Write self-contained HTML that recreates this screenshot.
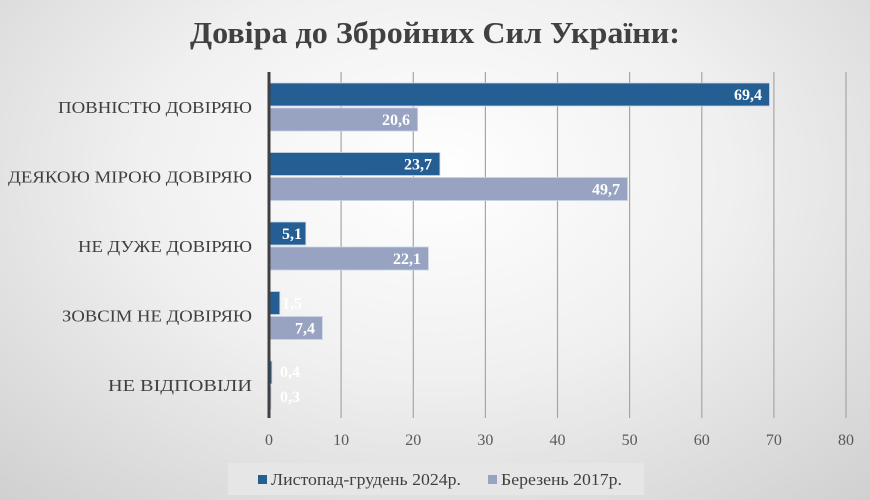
<!DOCTYPE html>
<html style="margin:0;width:870px;height:500px;overflow:hidden;"><head><meta charset="utf-8"><style>
body{margin:0;width:870px;height:500px;overflow:hidden;background:radial-gradient(ellipse 75% 90% at 50% 35%,#ffffff 0%,#f0f0f0 45%,#cfcfcf 100%);font-family:"Liberation Serif",serif;}
svg{display:block;}
</style></head><body>
<svg width="870" height="500" xmlns="http://www.w3.org/2000/svg" font-family="Liberation Serif, serif">
<text x="435" y="43" text-anchor="middle" font-size="31" font-weight="bold" fill="#404040" textLength="490" lengthAdjust="spacingAndGlyphs">Довіра до Збройних Сил України:</text>
<g stroke="#a6a6a6" stroke-width="1.2">
<line x1="341.1" y1="72" x2="341.1" y2="418"/><line x1="413.3" y1="72" x2="413.3" y2="418"/>
<line x1="485.4" y1="72" x2="485.4" y2="418"/><line x1="557.5" y1="72" x2="557.5" y2="418"/>
<line x1="629.6" y1="72" x2="629.6" y2="418"/><line x1="701.8" y1="72" x2="701.8" y2="418"/>
<line x1="773.9" y1="72" x2="773.9" y2="418"/><line x1="846" y1="72" x2="846" y2="418"/>
</g>
<g fill="#245e93" stroke="#c9d4e6" stroke-width="0.8">
<rect x="269" y="83" width="500.5" height="23"/>
<rect x="269" y="152.5" width="170.9" height="23"/>
<rect x="269" y="222" width="36.8" height="23"/>
<rect x="269" y="291.5" width="10.8" height="23"/>
<rect x="269" y="361" width="2.9" height="23"/>
</g>
<g fill="#97a3c1" stroke="#c9d4e6" stroke-width="0.8">
<rect x="269" y="108" width="148.6" height="23"/>
<rect x="269" y="177.5" width="358.5" height="23"/>
<rect x="269" y="247" width="159.4" height="23"/>
<rect x="269" y="316.5" width="53.4" height="23"/>
<rect x="269" y="386" width="2.2" height="23"/>
</g>
<line x1="269" y1="72" x2="269" y2="418" stroke="#404040" stroke-width="3"/>
<g fill="#ffffff" font-size="16" font-weight="bold">
<text x="762" y="100" text-anchor="end">69,4</text>
<text x="410" y="125" text-anchor="end">20,6</text>
<text x="432" y="169.5" text-anchor="end">23,7</text>
<text x="620" y="194.5" text-anchor="end">49,7</text>
<text x="302" y="239" text-anchor="end">5,1</text>
<text x="421" y="264" text-anchor="end">22,1</text>
<text x="282" y="308.5">1,5</text>
<text x="315" y="333.5" text-anchor="end">7,4</text>
<text x="280" y="377">0,4</text>
<text x="280" y="402">0,3</text>
</g>
<g fill="#404040" font-size="17" text-anchor="end" lengthAdjust="spacingAndGlyphs">
<text x="252" y="113" textLength="194" lengthAdjust="spacingAndGlyphs">ПОВНІСТЮ ДОВІРЯЮ</text>
<text x="252" y="182.5" textLength="244" lengthAdjust="spacingAndGlyphs">ДЕЯКОЮ МІРОЮ ДОВІРЯЮ</text>
<text x="252" y="252" textLength="174" lengthAdjust="spacingAndGlyphs">НЕ ДУЖЕ ДОВІРЯЮ</text>
<text x="252" y="321.5" textLength="190" lengthAdjust="spacingAndGlyphs">ЗОВСІМ НЕ ДОВІРЯЮ</text>
<text x="252" y="391" textLength="144" lengthAdjust="spacingAndGlyphs">НЕ ВІДПОВІЛИ</text>
</g>
<g fill="#595959" font-size="16" text-anchor="middle">
<text x="269" y="445">0</text><text x="341.1" y="445">10</text><text x="413.3" y="445">20</text>
<text x="485.4" y="445">30</text><text x="557.5" y="445">40</text><text x="629.6" y="445">50</text>
<text x="701.8" y="445">60</text><text x="773.9" y="445">70</text><text x="846" y="445">80</text>
</g>
<rect x="228" y="463" width="416" height="32" fill="#e6e6e6"/>
<rect x="258" y="475" width="9" height="9" fill="#245e93"/>
<text x="271" y="485" font-size="17" fill="#404040" textLength="190" lengthAdjust="spacingAndGlyphs">Листопад-грудень 2024р.</text>
<rect x="488" y="475" width="9" height="9" fill="#97a3c1"/>
<text x="501" y="485" font-size="17" fill="#404040" textLength="121" lengthAdjust="spacingAndGlyphs">Березень 2017р.</text>
</svg>
</body></html>
